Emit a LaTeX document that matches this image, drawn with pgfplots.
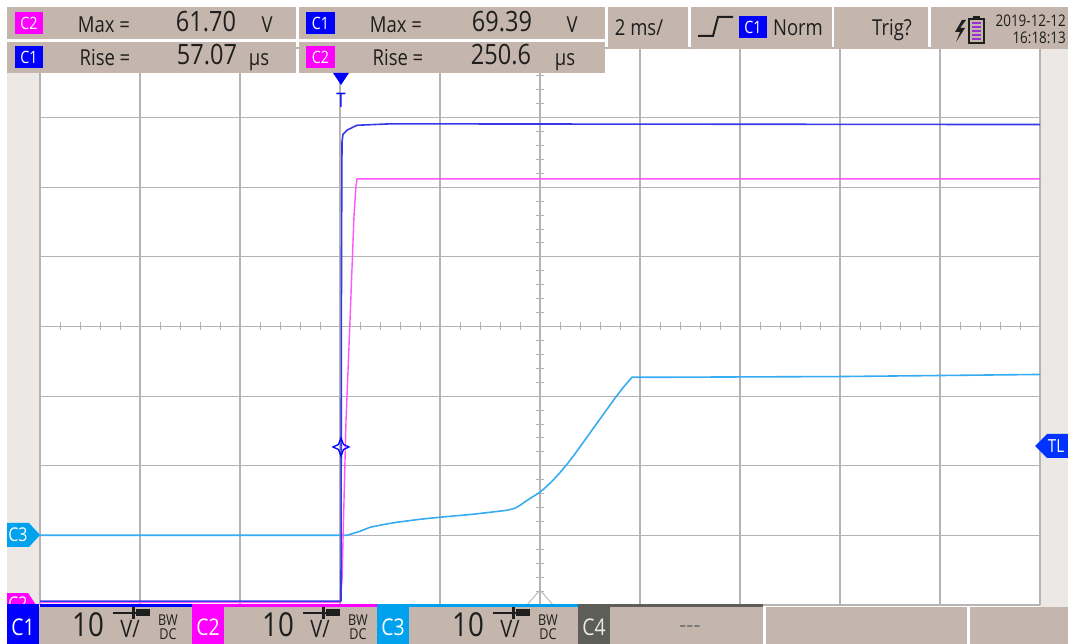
\documentclass[border=0pt]{standalone}
\usepackage{pgfplots}
\usepackage{pgfplotstable}
\pgfplotsset{compat=1.18}
\usepackage{fontspec}
\setmainfont{Open Sans}[FakeStretch=0.84]
\definecolor{tan}{HTML}{C4B6AC}
\definecolor{pane}{HTML}{EBE8E5}
\definecolor{gridc}{HTML}{B4B4B4}
\definecolor{cone}{HTML}{0000FF}
\definecolor{ctwo}{HTML}{FF00FF}
\definecolor{cthree}{HTML}{00A2EE}
\definecolor{cfour}{HTML}{5E5E59}
\definecolor{tone}{HTML}{3838E8}
\definecolor{ttwo}{HTML}{FF55FF}
\definecolor{tthree}{HTML}{38ACF2}
\definecolor{ink}{HTML}{1E1E1E}
\definecolor{batt}{HTML}{9A2FD0}
\newcommand{\fs}[1]{\fontsize{#1}{#1}\selectfont}

% traces: t in ms, v in volts
\pgfplotstableread{
t v
-6 0.55
0 0.55
0.02 0.55
0.03 50
0.04 66.5
0.06 67.6
0.14 68.2
0.34 68.9
1 69.1
14 69.0
}\chone
\pgfplotstableread{
t v
-6 0.35
0 0.35
0.04 3.5
0.08 15
0.12 26.4
0.2 40.8
0.28 55.9
0.32 60.2
0.34 61.2
14 61.2
}\chtwo
\pgfplotstableread{
t v
-6 0
0.14 0
0.4 0.57
0.6 1.15
0.9 1.58
1.14 1.87
1.6 2.3
2.0 2.59
2.66 3.02
3.0 3.3
3.34 3.59
3.5 3.88
3.6 4.31
3.74 5.0
3.87 5.6
4.0 6.18
4.13 7.0
4.26 7.9
4.4 9.0
4.54 10.2
4.7 11.7
4.86 13.3
5.02 14.9
5.18 16.5
5.34 18.1
5.5 19.7
5.66 21.2
5.84 22.7
6.4 22.7
10 22.8
14 23.1
}\chthree

\begin{document}
\begin{tikzpicture}
\useasboundingbox (0,0) rectangle (1068pt,644pt);
\begin{scope}[yshift=644pt, x=1pt, y=-1pt]
  \fill[white] (0,0) rectangle (1068,644);
  \fill[pane] (7,73) rectangle (40,607);
  \fill[pane] (1040,49) rectangle (1068,607);
  % grid
  \foreach \x in {40,140,...,1040} \draw[gridc, line width=1.2pt] (\x,48) -- (\x,605);
  \foreach \i in {0,...,8} \draw[gridc, line width=1.2pt] (40,{48+69.625*\i}) -- (1040,{48+69.625*\i});
  \foreach \i in {1,...,39} \draw[gridc, line width=0.9pt] (536,{48+13.925*\i}) -- (544,{48+13.925*\i});
  \foreach \i in {1,...,49} \draw[gridc, line width=0.9pt] ({40+20*\i},322.5) -- ({40+20*\i},330.5);
  \draw[gridc, line width=0.9pt] (527,605) -- (540,590) -- (553,605);
\end{scope}

\begin{axis}[at={(0,0)}, anchor=south west, scale only axis,
  width=1068pt, height=644pt,
  xmin=-6.8, xmax=14.56, ymin=-4.5619, ymax=4.6894,
  hide axis, clip=false]
  \addplot[tthree, line width=1.6pt, line join=round] table[x=t, y expr=\thisrow{v}/10-3] {\chthree};
  \addplot[ttwo, line width=1.4pt] table[x=t, y expr=\thisrow{v}/10-4] {\chtwo};
  \addplot[tone, line width=1.6pt, line join=round] table[x=t, y expr=\thisrow{v}/10-4] {\chone};
\end{axis}

\begin{scope}[yshift=644pt, x=1pt, y=-1pt, every node/.style={inner sep=0pt, text=ink}]
  % header, left measurement boxes
  \fill[tan] (7,7) rectangle (296,39);
  \fill[tan] (299,7) rectangle (605,39);
  \fill[tan] (7,42) rectangle (296,73);
  \fill[tan] (299,42) rectangle (605,73);
  \fill[ctwo] (15,12) rectangle (43,34); \node[text=white] at (29,23) {\fs{17}C2};
  \fill[cone] (306,12) rectangle (335,34); \node[text=white] at (320.5,23) {\fs{17}C1};
  \fill[cone] (15,46) rectangle (43,68); \node[text=white] at (29,57) {\fs{17}C1};
  \fill[ctwo] (306,46) rectangle (335,68); \node[text=white] at (320.5,57) {\fs{17}C2};
  \node[anchor=base] at (104,33) {\fs{22}Max =};
  \node[anchor=base] at (206,32) {\fs{28}61.70};
  \node[anchor=base] at (267,33) {\fs{22}V};
  \node[anchor=base] at (396,33) {\fs{22}Max =};
  \node[anchor=base] at (502,32) {\fs{28}69.39};
  \node[anchor=base] at (572,33) {\fs{22}V};
  \node[anchor=base] at (105,66) {\fs{22}Rise =};
  \node[anchor=base] at (207,65) {\fs{28}57.07};
  \node[anchor=base] at (259,66) {\fs{22}µs};
  \node[anchor=base] at (398,66) {\fs{22}Rise =};
  \node[anchor=base] at (501,65) {\fs{28}250.6};
  \node[anchor=base] at (565,66) {\fs{22}µs};
  % header, right boxes
  \fill[tan] (608,7) rectangle (688,49);
  \fill[tan] (691,7) rectangle (832,49);
  \fill[tan] (834,7) rectangle (928,49);
  \fill[tan] (931,7) rectangle (1068,49);
  \node[anchor=base] at (639,36) {\fs{22}2 ms/};
  \draw[ink, line width=2pt] (698,36) -- (713,36) -- (718,17) -- (733,17);
  \fill[cone] (739,16) rectangle (767,38); \node[text=white] at (753,27) {\fs{17}C1};
  \node[anchor=base] at (798,36) {\fs{22}Norm};
  \node[anchor=base] at (892,36) {\fs{22}Trig?};
  \fill[ink] (962,20) -- (955,32) -- (960,32) -- (956,42) -- (965,28) -- (960,28) -- (966,20) -- cycle;
  \draw[ink, line width=1.3pt] (969,19) rectangle (984,43);
  \fill[ink] (973,16) rectangle (980,19);
  \foreach \yy in {22,26,30,34,38} \fill[batt] (972,\yy) rectangle (981,{\yy+2.2});
  \node[anchor=base east] at (1066,27) {\fs{16}2019-12-12};
  \node[anchor=base east] at (1066,44) {\fs{16}16:18:13};
  % trigger markers
  \fill[cone] (333,73) -- (349,73) -- (341,85) -- cycle;
  \node[text=cone] at (341,100) {\fs{20}T};
  \draw[cone, line width=1.3pt] (341,438) -- (343.5,444.5) -- (349,447) -- (343.5,449.5) -- (341,456) -- (338.5,449.5) -- (333,447) -- (338.5,444.5) -- cycle;
  \fill[cone!80!cyan] (1068,434) -- (1047,434) -- (1035,446) -- (1047,458) -- (1068,458) -- cycle;
  \node[text=white] at (1056,446) {\fs{18}TL};
  % channel markers
  \fill[cthree] (7,523) -- (29,523) -- (40,535) -- (29,547) -- (7,547) -- cycle;
  \node[text=white] at (18,535) {\fs{19}C3};
  \begin{scope}
    \clip (7,593) -- (28,593) -- (36,605) -- (7,605) -- cycle;
    \fill[ctwo] (7,593) rectangle (36,605);
    \node[text=white] at (18,604) {\fs{19}C2};
  \end{scope}
  % bottom bar
  \fill[tan] (7,607) rectangle (1068,644);
  \fill[white] (763,607) rectangle (766,644);
  \fill[white] (967,607) rectangle (970,644);
  \fill[cone] (40,604) rectangle (192,607.5);
  \fill[ctwo] (192,604) rectangle (377,607.5);
  \fill[cthree] (377,604) rectangle (578,607.5);
  \fill[cfour] (578,604) rectangle (763,607.5);
  \fill[cone] (7,604) rectangle (39,644); \node[text=white] at (23,627) {\fs{23}C1};
  \fill[ctwo] (192,607) rectangle (224,644); \node[text=white] at (208,627) {\fs{23}C2};
  \fill[cthree] (377,607) rectangle (409,644); \node[text=white] at (393,627) {\fs{23}C3};
  \fill[cfour] (578,607) rectangle (610,644); \node[text=pane] at (594,627) {\fs{23}C4};
  \foreach \o in {0,190,380} {
    \node[anchor=base] at ({88+\o},637) {\fs{33}10};
    \node[anchor=base] at ({130+\o},638) {\fs{24}V/};
    \draw[ink, line width=1.3pt] ({113+\o},613) -- ({136+\o},613);
    \fill[ink] ({132+\o},607) rectangle ({134.5+\o},619);
    \fill[ink] ({136+\o},609.5) rectangle ({150+\o},616.5);
    \node[anchor=base] at ({168+\o},626) {\fs{15}BW};
    \node[anchor=base] at ({168+\o},640) {\fs{15}DC};
  }
  \node[text=ink!60] at (690,630) {\fs{26}-{}-{}-};
\end{scope}
\end{tikzpicture}
\end{document}
